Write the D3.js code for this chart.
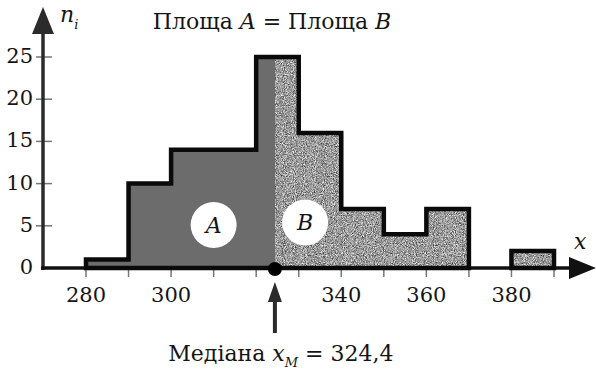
<!DOCTYPE html>
<html>
<head>
<meta charset="utf-8">
<script src="https://cdn.jsdelivr.net/npm/d3@7"></script>
<style>
  body { margin: 0; background: #fff; }
  svg text { font-family: "DejaVu Serif", serif; fill: #151515; }
</style>
</head>
<body>
<div id="chart"></div>
<script>
// histogram of x with bins of width 10
var binStarts = [280, 290, 300, 310, 320, 330, 340, 350, 360, 370, 380];
var counts = [1, 10, 14, 14, 25, 16, 7, 4, 7, 0, 2];
var binWidth = 10;
var yTicks = [0, 5, 10, 15, 20, 25];
var xTicks = [280, 290, 300, 310, 320, 330, 340, 350, 360, 370, 380, 390];
var xTickLabels = [280, 300, 340, 360, 380];
var median = 324.4;
var medianText = "324,4";

var width = 596, height = 372;

var xScale = d3.scaleLinear().domain([280, 390]).range([86, 554]);
var yScale = d3.scaleLinear().domain([0, 25]).range([268, 57]);

var svg = d3.select("#chart").append("svg")
    .attr("width", width)
    .attr("height", height);

var defs = svg.append("defs");
var f = defs.append("filter").attr("id", "speckle")
    .attr("x", 0).attr("y", 0).attr("width", 1).attr("height", 1)
    .attr("color-interpolation-filters", "sRGB");
f.append("feTurbulence").attr("type", "fractalNoise")
    .attr("baseFrequency", 1.1).attr("numOctaves", 2).attr("seed", 4).attr("result", "n");
f.append("feColorMatrix").attr("in", "n").attr("type", "matrix")
    .attr("values", "1.15 0 0 0 0.03  1.15 0 0 0 0.03  1.15 0 0 0 0.03  0 0 0 0 1")
    .attr("result", "g");
f.append("feComposite").attr("in", "g").attr("in2", "SourceGraphic").attr("operator", "in");

defs.append("clipPath").attr("id", "clipA").append("rect")
    .attr("x", 0).attr("y", 0).attr("width", xScale(median)).attr("height", height);
defs.append("clipPath").attr("id", "clipB").append("rect")
    .attr("x", xScale(median)).attr("y", 0).attr("width", width).attr("height", height);

var bins = binStarts.map(function(d, i) { return {x: d, c: counts[i]}; });
var areaData = bins.concat([{x: binStarts[binStarts.length - 1] + binWidth, c: counts[counts.length - 1]}]);

var area = d3.area()
    .x(function(d) { return xScale(d.x); })
    .y0(yScale(0))
    .y1(function(d) { return yScale(d.c); })
    .curve(d3.curveStepAfter);

svg.append("g").attr("clip-path", "url(#clipA)")
  .append("path")
    .datum(areaData)
    .attr("d", area)
    .attr("fill", "#6c6c6c");

svg.append("g").attr("clip-path", "url(#clipB)")
  .append("path")
    .datum(areaData)
    .attr("d", area)
    .attr("fill", "#999")
    .attr("filter", "url(#speckle)");

// axes (drawn before outline so the outline sits on top)
var axisColor = "#2b2b2b";

svg.selectAll(".xtick")
    .data(xTicks)
  .enter().append("line")
    .attr("class", "xtick")
    .attr("x1", function(d) { return xScale(d); })
    .attr("x2", function(d) { return xScale(d); })
    .attr("y1", yScale(0) + 2)
    .attr("y2", yScale(0) + 9)
    .attr("stroke", "#777")
    .attr("stroke-width", 1.5);

svg.selectAll(".ytick")
    .data(yTicks.slice(1))
  .enter().append("line")
    .attr("class", "ytick")
    .attr("x1", 36).attr("x2", 52)
    .attr("y1", function(d) { return yScale(d); })
    .attr("y2", function(d) { return yScale(d); })
    .attr("stroke", "#777")
    .attr("stroke-width", 1.5);

svg.append("line")
    .attr("x1", 43).attr("x2", 43)
    .attr("y1", yScale(0) + 2).attr("y2", 30)
    .attr("stroke", axisColor).attr("stroke-width", 3.5);
svg.append("path")
    .attr("d", "M43,7 L54,34 L32,34 Z")
    .attr("fill", axisColor);

svg.append("line")
    .attr("x1", 41).attr("x2", 575)
    .attr("y1", yScale(0)).attr("y2", yScale(0))
    .attr("stroke", "#111").attr("stroke-width", 3.5);
svg.append("path")
    .attr("d", "M596," + yScale(0) + " L569," + (yScale(0) - 11) + " L569," + (yScale(0) + 11) + " Z")
    .attr("fill", "#111");

// outline of the histogram, one closed path per run of non-empty bins
var groups = [], cur = [];
bins.forEach(function(b) {
  if (b.c > 0) { cur.push(b); }
  else if (cur.length) { groups.push(cur); cur = []; }
});
if (cur.length) groups.push(cur);

var outline = d3.line()
    .x(function(d) { return xScale(d.x); })
    .y(function(d) { return yScale(d.c); })
    .curve(d3.curveStepAfter);

groups.forEach(function(g) {
  var last = g[g.length - 1];
  var pts = [{x: g[0].x, c: 0}].concat(g)
      .concat([{x: last.x + binWidth, c: last.c}, {x: last.x + binWidth, c: 0}]);
  svg.append("path")
      .attr("d", outline(pts) + "Z")
      .attr("fill", "none")
      .attr("stroke", "#0a0a0a")
      .attr("stroke-width", 4.5)
      .attr("stroke-linejoin", "miter");
});

// tick labels
svg.selectAll(".ylab")
    .data(yTicks)
  .enter().append("text")
    .attr("class", "ylab")
    .attr("x", 33)
    .attr("y", function(d) { return yScale(d) + 6; })
    .attr("text-anchor", "end")
    .attr("font-size", 21)
    .text(function(d) { return d; });

svg.selectAll(".xlab")
    .data(xTickLabels)
  .enter().append("text")
    .attr("class", "xlab")
    .attr("x", function(d) { return xScale(d); })
    .attr("y", 302)
    .attr("text-anchor", "middle")
    .attr("font-size", 21)
    .text(function(d) { return d; });

// axis names
var ni = svg.append("text").attr("x", 60).attr("y", 22).attr("font-size", 22);
ni.append("tspan").attr("font-style", "italic").text("n");
ni.append("tspan").attr("font-style", "italic").attr("font-size", 13).attr("dy", 7).text("i");

svg.append("text").attr("x", 574).attr("y", 249)
    .attr("font-size", 22).attr("font-style", "italic").text("x");

// title
var title = svg.append("text").attr("x", 272).attr("y", 29)
    .attr("text-anchor", "middle").attr("font-size", 22);
title.append("tspan").text("Площа ");
title.append("tspan").attr("font-style", "italic").text("A");
title.append("tspan").text(" = Площа ");
title.append("tspan").attr("font-style", "italic").text("B");

// A / B markers
var marks = [{label: "A", x: 310, c: 5.1}, {label: "B", x: 331.5, c: 5.4}];
svg.selectAll(".mk")
    .data(marks)
  .enter().append("circle")
    .attr("cx", function(d) { return xScale(d.x); })
    .attr("cy", function(d) { return yScale(d.c); })
    .attr("r", 23)
    .attr("fill", "#fff");
svg.selectAll(".mklab")
    .data(marks)
  .enter().append("text")
    .attr("x", function(d) { return xScale(d.x); })
    .attr("y", function(d) { return yScale(d.c) + 8; })
    .attr("text-anchor", "middle")
    .attr("font-size", 22)
    .attr("font-style", "italic")
    .text(function(d) { return d.label; });

// median marker
var mx = xScale(median);
svg.append("circle").attr("cx", mx).attr("cy", yScale(0) + 1).attr("r", 7).attr("fill", "#000");
svg.append("line")
    .attr("x1", mx).attr("x2", mx)
    .attr("y1", 333).attr("y2", 296)
    .attr("stroke", axisColor).attr("stroke-width", 4);
svg.append("path")
    .attr("d", "M" + mx + ",282 L" + (mx + 7) + ",302 L" + (mx - 7) + ",302 Z")
    .attr("fill", axisColor);

var ml = svg.append("text").attr("x", mx + 6).attr("y", 361)
    .attr("text-anchor", "middle").attr("font-size", 22);
ml.append("tspan").text("Медіана ");
ml.append("tspan").attr("font-style", "italic").text("x");
ml.append("tspan").attr("font-style", "italic").attr("font-size", 13).attr("dy", 6).text("M");
ml.append("tspan").attr("dy", -6).text(" = " + medianText);
</script>
</body>
</html>
